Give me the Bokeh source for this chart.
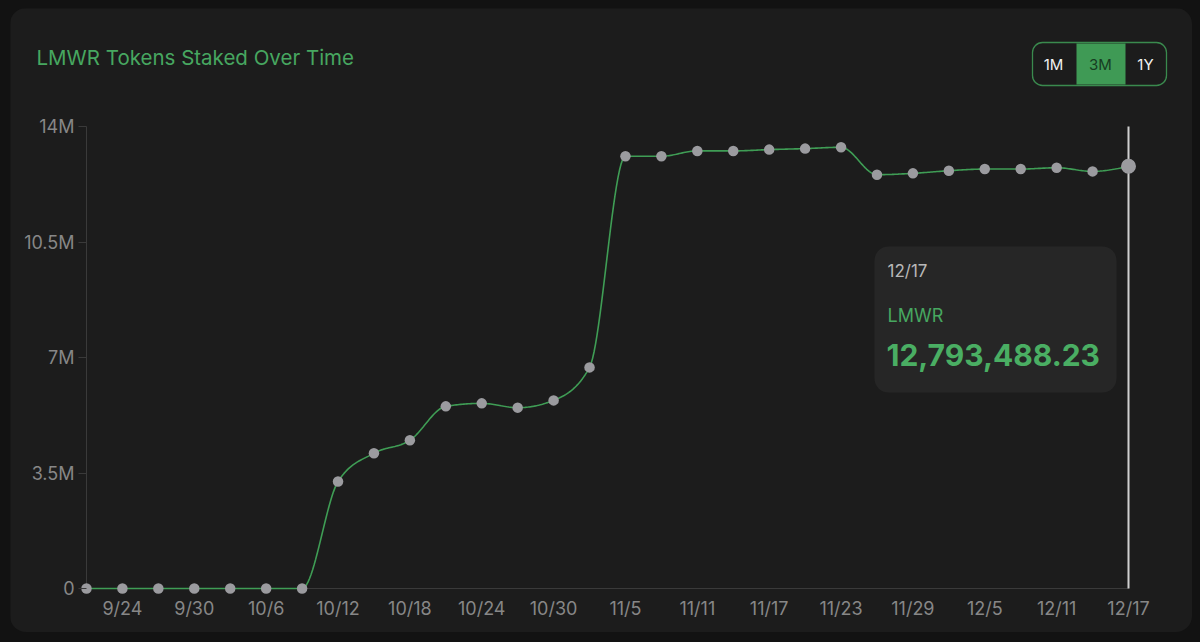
import numpy as np
from bokeh.plotting import figure
from bokeh.models import (Range1d, FixedTicker, BoxAnnotation, Label,
                          GlobalInlineStyleSheet, ColumnDataSource)
from bokeh.embed import file_html
from bokeh.resources import INLINE

# ---------------- data ----------------
dates = ["9/21", "9/24", "9/27", "9/30", "10/3", "10/6", "10/9", "10/12",
         "10/15", "10/18", "10/21", "10/24", "10/27", "10/30", "11/2", "11/5",
         "11/8", "11/11", "11/14", "11/17", "11/20", "11/23", "11/26", "11/29",
         "12/2", "12/5", "12/8", "12/11", "12/14", "12/17"]
staked = [0, 0, 0, 0, 0, 0, 0, 3240000,
          4100000, 4490000, 5520000, 5610000, 5480000, 5700000, 6700000, 13100000,
          13100000, 13260000, 13260000, 13300000, 13330000, 13370000, 12540000, 12580000,
          12660000, 12710000, 12710000, 12750000, 12640000, 12793488.23]
x_tick_labels = ["9/24", "9/30", "10/6", "10/12", "10/18", "10/24", "10/30", "11/5",
                 "11/11", "11/17", "11/23", "11/29", "12/5", "12/11", "12/17"]
y_ticks = [0, 3500000, 7000000, 10500000, 14000000]
y_tick_labels = ["0", "3.5M", "7M", "10.5M", "14M"]
title_text = "LMWR Tokens Staked Over Time"
series_name = "LMWR"
range_buttons = ["1M", "3M", "1Y"]
active_button = "3M"

# day offsets (every 3 days from the first date)
day = np.arange(len(dates)) * 3.0
label_day = {d: float(i * 3) for i, d in enumerate(dates)}
yv = np.array(staked, dtype=float)

# ---------------- colours ----------------
PAGE = "#121212"
CARD = "#1c1c1c"
GREEN = "#3f9d55"
TITLE_GREEN = "#47a760"
AXIS = "#3a3a3a"
TICK_TXT = "#878787"
DOT = "#9b9b9f"
FONT = "Inter"

# ---------------- monotone cubic curve (d3 monotoneX style) ----------------
def monotone(x, y, n=24):
    h = np.diff(x)
    s = np.diff(y) / h
    m = np.zeros_like(y)
    for k in range(1, len(y) - 1):
        h0, h1 = h[k - 1], h[k]
        s0, s1 = s[k - 1], s[k]
        p_ = (s0 * h1 + s1 * h0) / (h0 + h1)
        m[k] = (np.sign(s0) + np.sign(s1)) * min(abs(s0), abs(s1), 0.5 * abs(p_))
    m[0] = (3 * s[0] - m[1]) / 2
    m[-1] = (3 * s[-1] - m[-2]) / 2
    xs, ys = [], []
    for k in range(len(y) - 1):
        t = np.linspace(0, 1, n, endpoint=False)
        h00 = 2 * t**3 - 3 * t**2 + 1
        h10 = t**3 - 2 * t**2 + t
        h01 = -2 * t**3 + 3 * t**2
        h11 = t**3 - t**2
        xs.append(x[k] + t * h[k])
        ys.append(h00 * y[k] + h10 * h[k] * m[k] + h01 * y[k + 1] + h11 * h[k] * m[k + 1])
    xs.append([x[-1]]); ys.append([y[-1]])
    return np.concatenate(xs), np.concatenate(ys)

cx, cy = monotone(day, yv)

# ---------------- geometry (page pixels) ----------------
CARD_L, CARD_T, CARD_R, CARD_B = 10, 8, 1192, 632
FL, FR, FT, FB = 86, 1128, 126, 588       # data extents on page
x_end = day[-1]
sx = (FR - FL) / x_end
sy = (FB - FT) / y_ticks[-1]

def X(px):   # page px -> data x
    return (px - FL) / sx

def Y(py):   # page px -> data y
    return (FB - py) / sy

# the plotting frame covers the whole card; axes sit at the data origin
p = figure(width=CARD_R - CARD_L, height=CARD_B - CARD_T, output_backend="svg",
           toolbar_location=None,
           x_range=Range1d(X(CARD_L), X(CARD_R)),
           y_range=Range1d(Y(CARD_B), Y(CARD_T)),
           min_border=0)
p.title.visible = False
p.background_fill_color = CARD
p.border_fill_color = CARD
p.outline_line_color = None
p.grid.visible = False
p.styles = {"border-radius": "16px", "overflow": "hidden"}
p.stylesheets = [GlobalInlineStyleSheet(
    css=f"html, body {{ background: {PAGE}; }} body {{ padding: {CARD_T}px 0 0 {CARD_L}px; }}")]

xa = p.xaxis[0]
xa.fixed_location = 0
xa.ticker = FixedTicker(ticks=[label_day[t] for t in x_tick_labels], minor_ticks=[])
xa.major_label_overrides = {label_day[t]: t for t in x_tick_labels}
xa.axis_line_color = None
xa.major_tick_line_color = None
xa.major_tick_in = 0
xa.major_tick_out = 0
xa.major_label_text_color = TICK_TXT
xa.major_label_text_font = FONT
xa.major_label_text_font_size = "18px"
xa.major_label_standoff = 9

ya = p.yaxis[0]
ya.fixed_location = day[0]
ya.ticker = FixedTicker(ticks=y_ticks, minor_ticks=[])
ya.major_label_overrides = {float(v): l for v, l in zip(y_ticks, y_tick_labels)}
ya.axis_line_color = None
ya.major_tick_line_color = AXIS
ya.major_tick_in = 0
ya.major_tick_out = 8
ya.major_label_text_color = TICK_TXT
ya.major_label_text_font = FONT
ya.major_label_text_font_size = "18px"
ya.major_label_standoff = 4

# axis lines at the data origin
p.segment(x0=[day[0]], y0=[0], x1=[day[-1]], y1=[0], line_color=AXIS, line_width=1)
p.segment(x0=[day[0]], y0=[0], x1=[day[0]], y1=[y_ticks[-1]], line_color=AXIS, line_width=1)

# crosshair at the hovered (last) point
p.segment(x0=[day[-1]], y0=[0], x1=[day[-1]], y1=[y_ticks[-1]], line_color="#cfcfcf", line_width=2)

# curve and points
p.line(cx, cy, line_color=GREEN, line_width=1.6)
src = ColumnDataSource(dict(x=day[:-1], y=yv[:-1]))
p.scatter("x", "y", source=src, size=10.5, fill_color=DOT, line_color=None)
p.scatter([day[-1]], [yv[-1]], size=15, fill_color=DOT, line_color=None)

# title
p.add_layout(Label(x=X(36), y=Y(57), text=title_text, text_color=TITLE_GREEN,
                   text_font=FONT, text_font_size="20.5px", text_baseline="middle"))

# range buttons
p.add_layout(BoxAnnotation(left=X(1032), right=X(1166), top=Y(42), bottom=Y(85),
                           fill_color=CARD, fill_alpha=1, line_color="#3a8a4e",
                           line_alpha=1, line_width=1.3, border_radius=10))
p.add_layout(BoxAnnotation(left=X(1076), right=X(1125), top=Y(43), bottom=Y(84),
                           fill_color="#3f9a55", fill_alpha=1, line_color=None))
for lbl, cxp in zip(range_buttons, [1053, 1100, 1145]):
    col = "#173d22" if lbl == active_button else "#f2f2f2"
    p.add_layout(Label(x=X(cxp), y=Y(64), text=lbl, text_color=col, text_font=FONT,
                       text_font_size="15px", text_align="center", text_baseline="middle"))

# tooltip
p.add_layout(BoxAnnotation(left=X(874), right=X(1116), top=Y(246), bottom=Y(392),
                           fill_color="#262626", fill_alpha=1, line_color=None,
                           border_radius=14, level="overlay"))
p.add_layout(Label(x=X(887), y=Y(270), text=dates[-1], text_color="#b8b8b8", text_font=FONT,
                   text_font_size="17px", text_baseline="middle", level="overlay"))
p.add_layout(Label(x=X(887), y=Y(315), text=series_name, text_color=TITLE_GREEN, text_font=FONT,
                   text_font_size="18px", text_baseline="middle", level="overlay"))
p.add_layout(Label(x=X(886), y=Y(354), text=f"{staked[-1]:,.2f}", text_color="#4aae63",
                   text_font=FONT, text_font_size="30px", text_font_style="bold",
                   text_baseline="middle", level="overlay"))

open("out.html", "w").write(file_html(p, INLINE))
